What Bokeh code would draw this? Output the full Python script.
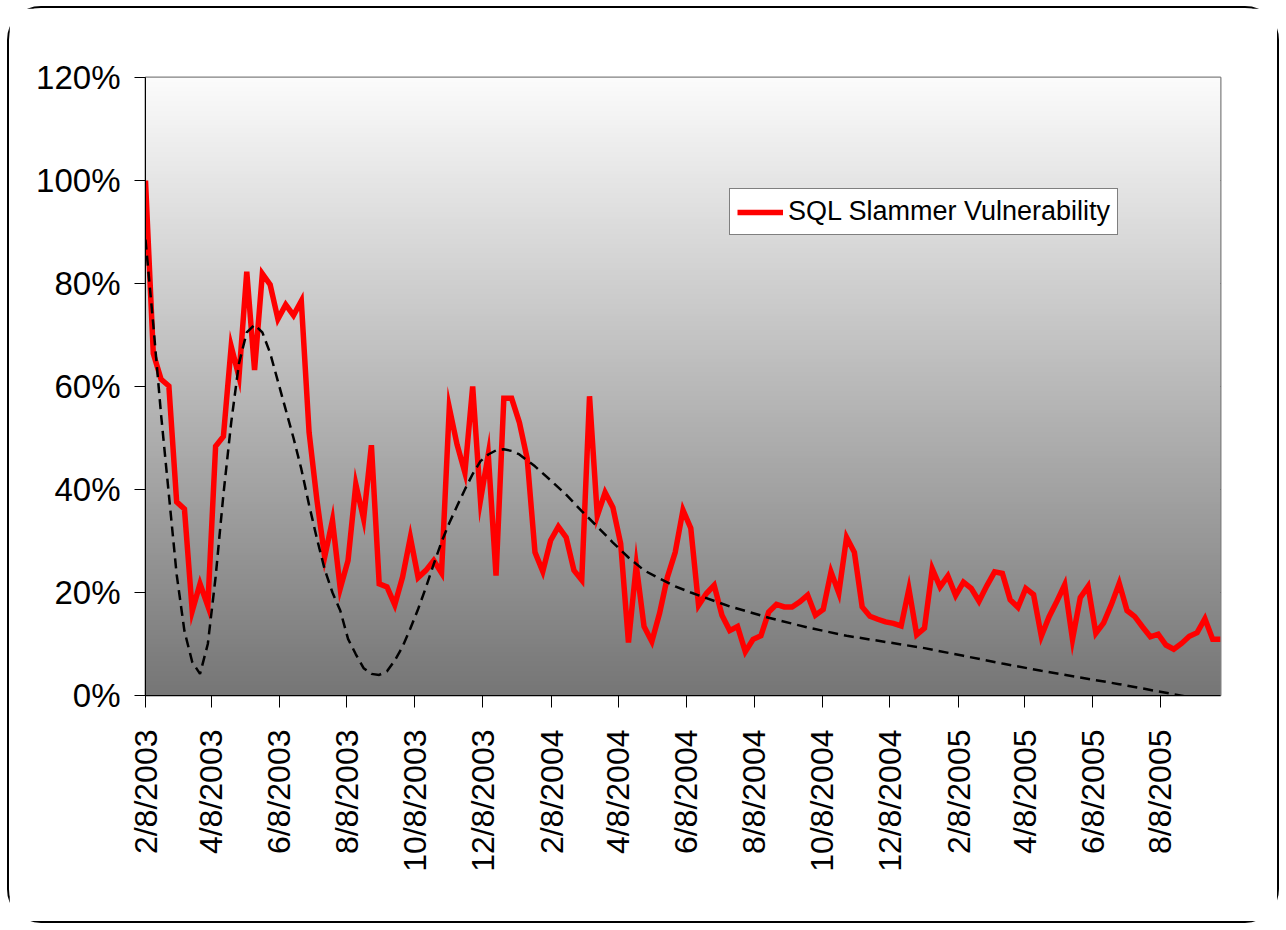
import numpy as np
import pandas as pd
from bokeh.plotting import figure
from bokeh.models import (Range1d, FixedTicker, NumeralTickFormatter,
                          CustomJSTickFormatter, Legend, LegendItem)
from bokeh.embed import file_html
from bokeh.resources import INLINE

# ---------------- data ----------------
start_date = "2003-02-08"   # weekly observations

vulnerability = [
    1.00, 0.664, 0.614, 0.601, 0.376, 0.362, 0.164, 0.217, 0.174, 0.484,
    0.503, 0.678, 0.619, 0.823, 0.632, 0.819, 0.798, 0.731, 0.759, 0.738,
    0.766, 0.511, 0.380, 0.269, 0.340, 0.208, 0.262, 0.410, 0.343, 0.486,
    0.217, 0.211, 0.176, 0.230, 0.307, 0.229, 0.243, 0.262, 0.238, 0.559,
    0.487, 0.433, 0.600, 0.379, 0.468, 0.233, 0.577, 0.577, 0.530, 0.460,
    0.278, 0.241, 0.301, 0.328, 0.307, 0.243, 0.224, 0.581, 0.349, 0.394,
    0.365, 0.295, 0.103, 0.253, 0.134, 0.105, 0.160, 0.230, 0.278, 0.360,
    0.325, 0.175, 0.198, 0.214, 0.156, 0.126, 0.134, 0.085, 0.109, 0.116,
    0.162, 0.177, 0.172, 0.172, 0.182, 0.195, 0.156, 0.167, 0.240, 0.199,
    0.307, 0.278, 0.172, 0.154, 0.148, 0.143, 0.140, 0.135, 0.207, 0.118,
    0.131, 0.246, 0.211, 0.232, 0.194, 0.220, 0.208, 0.183, 0.213, 0.240,
    0.237, 0.186, 0.171, 0.208, 0.196, 0.115, 0.153, 0.183, 0.215, 0.109,
    0.190, 0.212, 0.121, 0.141, 0.177, 0.218, 0.165, 0.153, 0.133, 0.114,
    0.119, 0.098, 0.090, 0.101, 0.115, 0.122, 0.149, 0.109, 0.109,
]

# dashed trend curve (week index, value)
trend_week = [0, 1, 2, 3, 4, 5, 6, 7, 8, 9, 10, 11, 12, 13, 14, 15, 16, 17,
              18, 19, 20, 21, 22, 23, 24, 25, 26, 27, 28, 29, 30, 31, 32, 33,
              34, 35, 36, 37, 38, 39, 40, 41, 42, 43, 44, 45, 46, 47, 48, 50,
              52, 54, 56, 58, 60, 62, 64, 66, 68, 70, 75, 80, 85, 90, 95, 100,
              105, 110, 115, 120, 125, 130, 135, 138]
trend_value = [0.885, 0.72, 0.545, 0.39, 0.235, 0.125, 0.065, 0.042, 0.10,
               0.23, 0.39, 0.53, 0.645, 0.705, 0.72, 0.705, 0.665, 0.61,
               0.555, 0.50, 0.44, 0.37, 0.305, 0.245, 0.20, 0.165, 0.11,
               0.08, 0.053, 0.042, 0.04, 0.047, 0.068, 0.095, 0.13, 0.168,
               0.21, 0.255, 0.298, 0.335, 0.368, 0.40, 0.43, 0.455, 0.468,
               0.476, 0.478, 0.475, 0.468, 0.445, 0.418, 0.39, 0.358, 0.328,
               0.297, 0.268, 0.243, 0.227, 0.212, 0.20, 0.173, 0.151, 0.132,
               0.116, 0.104, 0.092, 0.077, 0.062, 0.048, 0.035, 0.022, 0.008,
               -0.006, -0.016]

y_ticks = [0.0, 0.2, 0.4, 0.6, 0.8, 1.0, 1.2]
x_tick_labels = ["2/8/2003", "4/8/2003", "6/8/2003", "8/8/2003", "10/8/2003",
                 "12/8/2003", "2/8/2004", "4/8/2004", "6/8/2004", "8/8/2004",
                 "10/8/2004", "12/8/2004", "2/8/2005", "4/8/2005", "6/8/2005",
                 "8/8/2005"]
series_label = "SQL Slammer Vulnerability"

# ---------------- derived ----------------
t0 = pd.Timestamp(start_date)
dates = pd.date_range(t0, periods=len(vulnerability), freq="7D")
trend_dates = [t0 + pd.Timedelta(weeks=w) for w in trend_week]
epoch = pd.Timestamp("1970-01-01")
to_ms = lambda d: (pd.Timestamp(d) - epoch) / pd.Timedelta(milliseconds=1)
tick_ms = [to_ms(pd.to_datetime(s, format="%m/%d/%Y")) for s in x_tick_labels]

x0, x1 = to_ms(dates[0]), to_ms(dates[-1])
y0, y1 = y_ticks[0], y_ticks[-1]

FONT = "Liberation Sans"

p = figure(width=1272, height=917, output_backend="svg", toolbar_location=None,
           x_axis_type="datetime", x_range=Range1d(x0, x1),
           y_range=Range1d(y0, y1),
           min_border_left=136, min_border_right=61,
           min_border_top=69, min_border_bottom=230)
p.styles = {"border": "2px solid #000000", "border-radius": "34px",
            "margin-left": "7px", "margin-top": "6px"}
p.background_fill_color = "white"
p.border_fill_color = "white"
p.outline_line_color = "#808080"
p.outline_line_width = 2

# plot-area vertical gradient (light top -> dark bottom)
n = 256
levels = np.linspace(118, 252, n).astype(np.uint32)
img = np.empty((n, 1), dtype=np.uint32)
view = img.view(dtype=np.uint8).reshape((n, 1, 4))
view[:, 0, 0] = levels
view[:, 0, 1] = levels
view[:, 0, 2] = levels
view[:, 0, 3] = 255
p.image_rgba(image=[img], x=x0, y=y0, dw=x1 - x0, dh=y1 - y0)

# grid
p.xgrid.visible = False
p.ygrid.ticker = FixedTicker(ticks=y_ticks[1:-1])
p.ygrid.grid_line_color = "#000000"
p.ygrid.grid_line_width = 1

# lines
r = p.line(dates, vulnerability, line_color="#ff0000", line_width=5.5,
           line_join="miter")
p.line(trend_dates, trend_value, line_color="#000000", line_width=2.5,
       line_dash="10 6")

# axes
p.yaxis.ticker = FixedTicker(ticks=y_ticks)
p.yaxis.formatter = NumeralTickFormatter(format="0%")
p.xaxis.ticker = FixedTicker(ticks=tick_ms)
p.xaxis.formatter = CustomJSTickFormatter(code="""
const d = new Date(tick);
return (d.getUTCMonth() + 1) + '/' + d.getUTCDate() + '/' + d.getUTCFullYear();
""")
p.xaxis.major_label_orientation = np.pi / 2
for ax in (p.xaxis, p.yaxis):
    ax.axis_line_color = "#000000"
    ax.axis_line_width = 1
    ax.major_tick_line_color = "#000000"
    ax.major_tick_in = 0
    ax.minor_tick_line_color = None
    ax.major_label_text_font = FONT
    ax.major_label_text_color = "#000000"
p.xaxis.major_label_text_font_size = "32px"
p.yaxis.major_label_text_font_size = "33px"
p.xaxis.major_tick_out = 12
p.xaxis.major_label_standoff = 22
p.yaxis.major_tick_out = 11
p.yaxis.major_label_standoff = 14

legend = Legend(items=[LegendItem(label=series_label, renderers=[r])],
                location=(584, 460))
legend.label_text_font = FONT
legend.label_text_font_size = "27px"
legend.label_text_color = "#000000"
legend.border_line_color = "#000000"
legend.border_line_width = 1
legend.background_fill_color = "white"
legend.background_fill_alpha = 1
legend.glyph_width = 46
legend.glyph_height = 30
legend.label_standoff = 5
legend.padding = 7
legend.margin = 0
legend.spacing = 0
p.add_layout(legend)

open("out.html", "w").write(file_html(p, INLINE))
